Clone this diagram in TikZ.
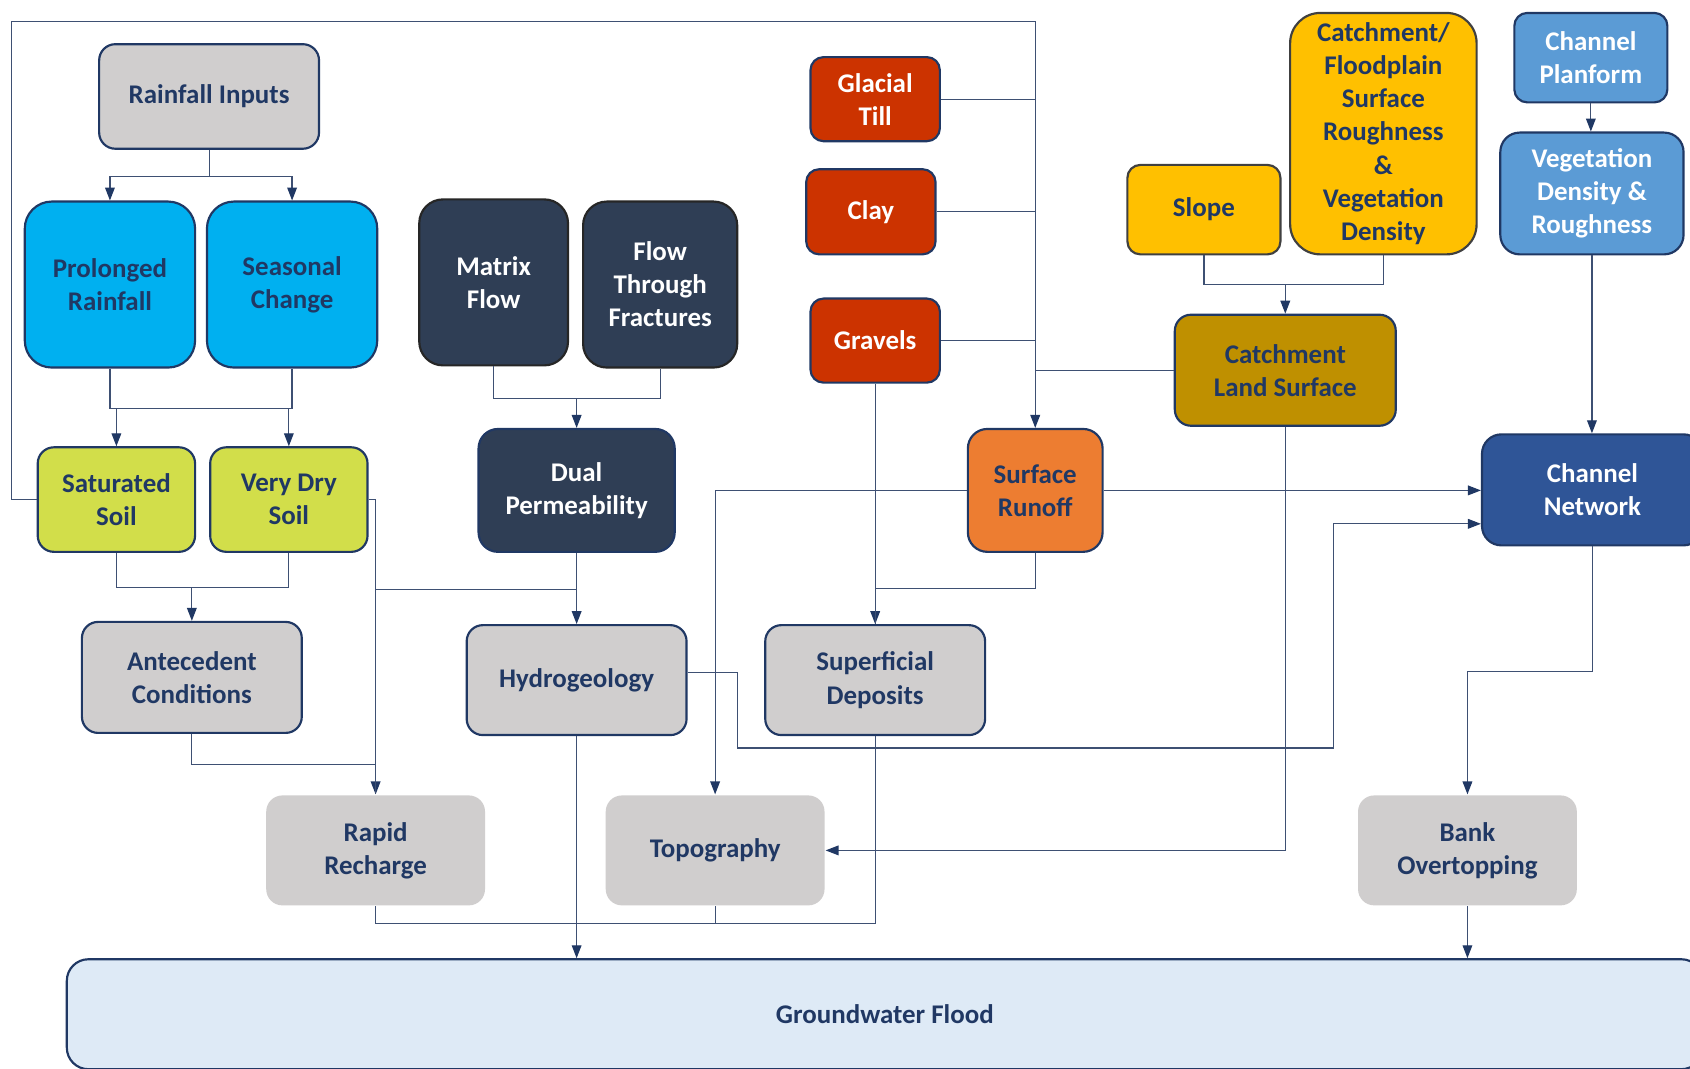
\documentclass[tikz,border=0pt]{standalone}
\usepackage{fontspec}
\setmainfont{Carlito}
\usetikzlibrary{arrows.meta,calc}
\definecolor{navy}{HTML}{203864}
\definecolor{lineC}{HTML}{3E5073}
\definecolor{topC}{HTML}{7F8FAA}
\definecolor{grayF}{HTML}{D0CECE}
\definecolor{cyanF}{HTML}{00B0F0}
\definecolor{slateF}{HTML}{2F3E55}
\definecolor{redF}{HTML}{CC3300}
\definecolor{goldF}{HTML}{FFC000}
\definecolor{dgoldF}{HTML}{BF9000}
\definecolor{midbF}{HTML}{5B9BD5}
\definecolor{chanF}{HTML}{2F5597}
\definecolor{limeF}{HTML}{D2DE4A}
\definecolor{orangeF}{HTML}{ED7D31}
\definecolor{lightbF}{HTML}{DEEAF6}
\newcommand{\bigfont}{\fontsize{25}{30.7}\selectfont\bfseries}
\tikzset{
  x=1pt, y=-1pt,
  box/.style={draw=navy, line width=2pt, rounded corners=15pt, align=center,
    font=\bigfont, text=navy, inner sep=0pt, fill=grayF},
  plain/.style={box, draw=none},
  dark/.style={box, fill=slateF, draw=black!85, text=white, rounded corners=22pt},
  redbox/.style={box, fill=redF, text=white, rounded corners=12pt},
  goldbox/.style={box, fill=goldF, draw=black!75},
  conn/.style={draw=lineC, line width=1.1pt},
  arr/.style={conn, -{Triangle[length=12pt,width=9pt,fill=navy,color=navy]}},
  sz/.style 2 args={minimum width=#1pt, minimum height=#2pt}
}
\begin{document}
\begin{tikzpicture}
\clip (0,0) rectangle (1568,991);
\fill[white] (0,0) rectangle (1568,991);

% nodes
\node[box, sz={204}{97}] (rain) at (194,89.5) {Rainfall Inputs};
\node[box, fill=cyanF, rounded corners=25pt, sz={158}{154}] (prol) at (102,264) {Prolonged\\Rainfall};
\node[box, fill=cyanF, rounded corners=25pt, sz={158}{154}] (seas) at (271,264) {Seasonal\\Change};
\node[dark, sz={138}{154}] (matrix) at (458,262) {Matrix\\Flow};
\node[dark, sz={143}{154}] (frac) at (612.5,264) {Flow\\Through\\Fractures};
\node[redbox, sz={120}{78}] (glacial) at (812,92) {Glacial\\Till};
\node[redbox, sz={120}{79}] (clay) at (808,196.5) {Clay};
\node[redbox, sz={120}{78}] (gravels) at (812,316) {Gravels};
\node[goldbox, rounded corners=12pt, sz={142}{83}] (slope) at (1117,194.5) {Slope};
\node[goldbox, rounded corners=28pt, sz={173}{224}] (catchfp) at (1283.5,124) {Catchment/\\Floodplain\\Surface\\Roughness\\\&\\Vegetation\\Density};
\node[box, fill=midbF, text=white, rounded corners=12pt, sz={142}{83}] (planform) at (1476,53.5) {Channel\\Planform};
\node[box, fill=midbF, text=white, rounded corners=18pt, sz={170}{113}] (veg) at (1477,179.5) {Vegetation\\Density \&\\Roughness};
\node[box, fill=dgoldF, sz={205}{103}] (cls) at (1192.5,343.5) {Catchment\\Land Surface};
\node[box, fill=limeF, sz={146}{97}] (sat) at (108,463.5) {Saturated\\Soil};
\node[box, fill=limeF, sz={146}{97}] (dry) at (268,463.5) {Very Dry\\Soil};
\node[box, fill=slateF, text=white, rounded corners=18pt, sz={182}{114}] (dual) at (535,455) {Dual\\Permeability};
\node[box, fill=orangeF, rounded corners=18pt, sz={125}{114}] (runoff) at (960.5,455) {Surface\\Runoff};
\node[box, fill=chanF, text=white, rounded corners=18pt, sz={205}{103}] (chan) at (1477.5,454.5) {Channel\\Network};
\node[box, sz={204}{103}] (ante) at (178,628.5) {Antecedent\\Conditions};
\node[box, sz={204}{102}] (hydro) at (535,631) {Hydrogeology};
\node[box, sz={204}{102}] (super) at (812,631) {Superficial\\Deposits};
\node[plain, sz={203}{102}] (rapid) at (348.5,789) {Rapid\\Recharge};
\node[plain, sz={203}{102}] (topo) at (663.5,789) {Topography};
\node[plain, sz={203}{102}] (bank) at (1361.5,789) {Bank\\Overtopping};
\node[box, fill=lightbF, rounded corners=20pt, sz={1518}{102}] (gw) at (821,941) {Groundwater Flood};

% coordinates
\coordinate (topL) at (11,20);
\coordinate (h1) at (684,694);
\coordinate (h2) at (1237,486);

% connectors
\draw[arr] (rain.south) -- ++(0,25) -| (prol.north);
\draw[arr] (rain.south) -- ++(0,25) -| (seas.north);

\draw[conn] (prol.south) -- ++(0,37) coordinate (j1) -| (seas.south);
\draw[arr] (j1 -| sat.north) -- (sat.north);
\draw[arr] (j1 -| dry.north) -- (dry.north);

\draw[arr] (sat.west) -| (topL) -- (topL -| runoff.north) -- (runoff.north);
\draw[conn] (glacial.east) -- (glacial.east -| runoff.north);
\draw[conn] (clay.east) -- (clay.east -| runoff.north);
\draw[conn] (gravels.east) -- (gravels.east -| runoff.north);
\draw[conn] (cls.west) -- (cls.west -| runoff.north);

\draw[conn] (matrix.south) -- ++(0,30) coordinate (j2) -| (frac.south);
\draw[arr] (j2 -| dual.north) -- (dual.north);

\draw[conn] (sat.south) -- ++(0,32) coordinate (j3) -| (dry.south);
\draw[arr] (j3 -| ante.north) -- (ante.north);

\draw[arr] (dry.east) -| (rapid.north);
\draw[arr] (dual.south) -- (hydro.north);
\draw[conn] (dual.south) ++(0,34) coordinate (j5) -- (j5 -| rapid.north);
\draw[conn] (ante.south) -- ++(0,28) -| (rapid.north);

\draw[arr] (runoff.west) -| (topo.north);
\draw[arr] (runoff.east) -- (runoff.east -| chan.west);

\draw[arr] (gravels.south) -- (super.north);
\draw[conn] (runoff.south) -- ++(0,33) -| (super.north);

\draw[arr] ([yshift=7pt]hydro.east) -| (h1) -| (h2) -- (h2 -| chan.west);

\draw[arr] (cls.south) |- (topo.east);

\draw[conn] (slope.south) -- ++(0,27) coordinate (j6) -| (catchfp.south);
\draw[arr] (j6 -| cls.north) -- (cls.north);

\draw[arr] (planform.south) -- (planform.south |- veg.north);
\draw[arr] (veg.south) -- (veg.south |- chan.north);
\draw[arr] (chan.south) -- ++(0,116) -| (bank.north);
\draw[arr] (bank.south) -- (bank.south |- gw.north);

\draw[arr] (hydro.south) -- (hydro.south |- gw.north);
\draw[conn] (rapid.south) -- ++(0,16) -| (super.south);
\draw[conn] (topo.south) -- ++(0,16);
\end{tikzpicture}
\end{document}
